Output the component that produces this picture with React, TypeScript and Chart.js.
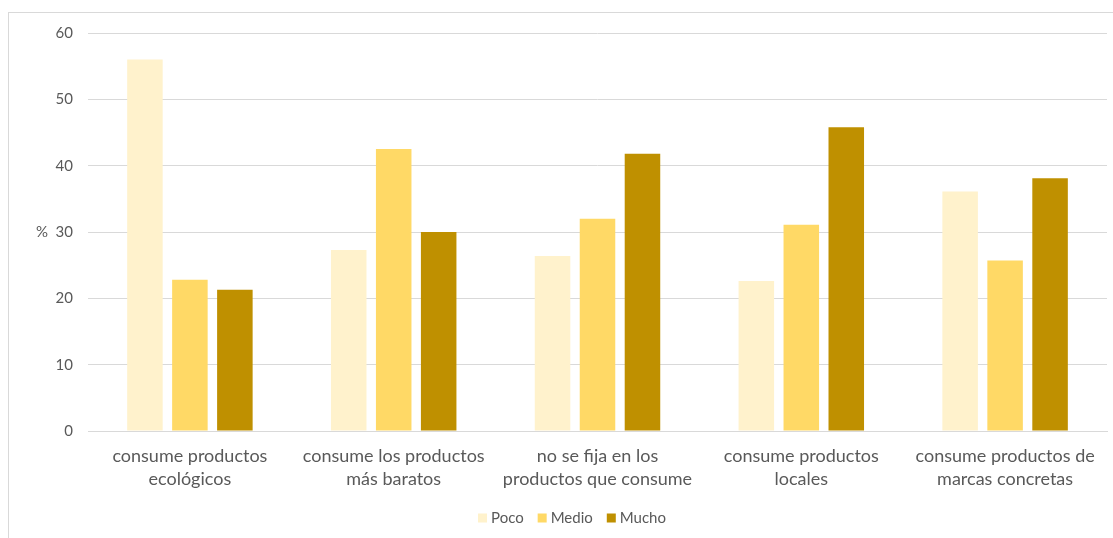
import React, { useEffect, useRef } from "react";
import { Chart, registerables } from "chart.js";

Chart.register(...registerables);

// Categories (two-line labels) and percentages per level
const categories: string[][] = [
  ["consume productos", "ecológicos"],
  ["consume los productos", "más baratos"],
  ["no se fija en los", "productos que consume"],
  ["consume productos", "locales"],
  ["consume productos de", "marcas concretas"],
];
const poco: number[] = [56.0, 27.3, 26.4, 22.6, 36.1];
const medio: number[] = [22.8, 42.5, 32.0, 31.1, 25.7];
const mucho: number[] = [21.3, 30.0, 41.8, 45.8, 38.1];
const seriesNames: string[] = ["Poco", "Medio", "Mucho"];
const seriesColors: string[] = ["#FFF2CC", "#FFD966", "#BF9000"];
const yTicks: number[] = [0, 10, 20, 30, 40, 50, 60];
const yUnit = "%";

const FONT = "Lato, 'Liberation Sans', sans-serif";
const TEXT = "#595959";
const GRID = "#D9D9D9";
const LEGEND_CENTER_X = 572;
const LEGEND_Y = 518;

// Draws the unrotated unit label to the left of the value axis
const unitLabel = {
  id: "unitLabel",
  afterDraw(chart: any) {
    const y = chart.scales.y;
    const ctx = chart.ctx;
    ctx.save();
    ctx.font = `15px ${FONT}`;
    ctx.fillStyle = TEXT;
    ctx.textAlign = "center";
    ctx.textBaseline = "middle";
    ctx.fillText(yUnit, y.left + 42, y.getPixelForValue(30));
    ctx.restore();
  },
};

// Compact legend: small square swatch, tight gap to the text
const compactLegend = {
  id: "compactLegend",
  afterDraw(chart: any) {
    const ctx = chart.ctx;
    const box = 9;
    const gap = 4;
    const itemGap = 14;
    ctx.save();
    ctx.font = `15px ${FONT}`;
    ctx.textBaseline = "middle";
    ctx.textAlign = "left";
    const items = chart.data.datasets.map((ds: any) => ({
      label: ds.label as string,
      color: ds.backgroundColor as string,
      w: ctx.measureText(ds.label).width,
    }));
    const total =
      items.reduce((s: number, it: any) => s + box + gap + it.w, 0) + itemGap * (items.length - 1);
    let x = LEGEND_CENTER_X - total / 2;
    for (const it of items) {
      ctx.fillStyle = it.color;
      ctx.fillRect(x, LEGEND_Y - box / 2, box, box);
      ctx.fillStyle = TEXT;
      ctx.fillText(it.label, x + box + gap, LEGEND_Y);
      x += box + gap + it.w + itemGap;
    }
    ctx.restore();
  },
};

export default function App() {
  const ref = useRef<HTMLCanvasElement | null>(null);

  useEffect(() => {
    if (!ref.current) return;
    const data = [poco, medio, mucho];
    const chart = new Chart(ref.current, {
      type: "bar",
      data: {
        labels: categories,
        datasets: seriesNames.map((name, i) => ({
          label: name,
          data: data[i],
          backgroundColor: seriesColors[i],
          borderWidth: 0,
          categoryPercentage: 0.662,
          barPercentage: 0.79,
        })),
      },
      options: {
        animation: false,
        responsive: false,
        maintainAspectRatio: false,
        layout: { padding: { left: 0, right: 6, top: 33, bottom: 35 } },
        plugins: {
          tooltip: { enabled: false },
          legend: { display: false },
        },
        scales: {
          x: {
            grid: { display: false, drawTicks: false },
            border: { display: true, color: GRID, width: 1 },
            ticks: {
              color: TEXT,
              font: { family: FONT, size: 18, lineHeight: 1.25 },
              padding: 14,
              maxRotation: 0,
              autoSkip: false,
            },
            afterFit(scale: any) {
              scale.height = 72;
            },
          },
          y: {
            min: yTicks[0],
            max: yTicks[yTicks.length - 1],
            afterBuildTicks(scale: any) {
              scale.ticks = yTicks.map((v) => ({ value: v }));
            },
            grid: { color: GRID, lineWidth: 1, drawTicks: false },
            border: { display: false },
            ticks: {
              color: TEXT,
              font: { family: FONT, size: 15 },
              padding: 15,
            },
            afterFit(scale: any) {
              scale.width = 88;
            },
          },
        },
      },
      plugins: [unitLabel, compactLegend],
    });
    return () => chart.destroy();
  }, []);

  return (
    <div style={{ position: "fixed", left: 0, top: 0, width: 1113, height: 538, overflow: "hidden", background: "#fff" }}>
      <div
        style={{
          position: "absolute",
          left: 8,
          top: 12,
          width: 1200,
          height: 700,
          border: `1px solid ${GRID}`,
          boxSizing: "border-box",
        }}
      />
      <canvas ref={ref} width={1113} height={538} style={{ position: "absolute", left: 0, top: 0 }} />
    </div>
  );
}
